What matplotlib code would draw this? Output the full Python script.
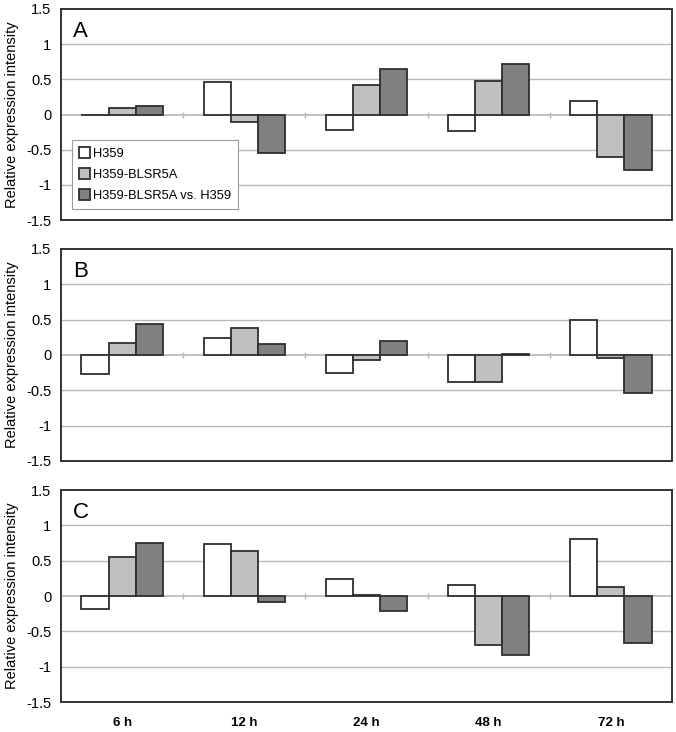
import matplotlib
matplotlib.use("Agg")
import matplotlib.pyplot as plt
import numpy as np

plt.rcParams['font.family'] = ['Liberation Sans', 'DejaVu Sans']

categories = ["6 h", "12 h", "24 h", "48 h", "72 h"]
series_names = ["H359", "H359-BLSR5A", "H359-BLSR5A vs. H359"]
panel_labels = ["A", "B", "C"]

# Panel A
a_h359 = [-0.01, 0.46, -0.215, -0.235, 0.185]
a_blsr = [0.09, -0.11, 0.425, 0.47, -0.61]
a_vs = [0.12, -0.55, 0.64, 0.72, -0.79]
# Panel B
b_h359 = [-0.275, 0.245, -0.255, -0.385, 0.49]
b_blsr = [0.17, 0.385, -0.075, -0.385, -0.04]
b_vs = [0.445, 0.155, 0.20, 0.015, -0.535]
# Panel C
c_h359 = [-0.18, 0.735, 0.235, 0.155, 0.80]
c_blsr = [0.55, 0.64, 0.01, -0.70, 0.125]
c_vs = [0.75, -0.08, -0.215, -0.84, -0.67]

panels = [(a_h359, a_blsr, a_vs), (b_h359, b_blsr, b_vs), (c_h359, c_blsr, c_vs)]
yticks = [-1.5, -1, -0.5, 0, 0.5, 1, 1.5]
ytick_labels = ["-1.5", "-1", "-0.5", "0", "0.5", "1", "1.5"]

colors = ["#ffffff", "#c0c0c0", "#808080"]
edge = "#2e2e2e"
grid_c = "#b8b8b8"

fig = plt.figure(figsize=(6.76, 7.32), dpi=100)
W, H = 676, 732
left, right = 61, 672
tops = [9, 249, 490]
bottoms = [220, 461, 702]

x = np.arange(len(categories))
bw = 0.222
for i, (vals, top, bot) in enumerate(zip(panels, tops, bottoms)):
    ax = fig.add_axes([left / W, 1 - bot / H, (right - left) / W, (bot - top) / H])
    ax.set_xlim(-0.5, len(categories) - 0.5)
    ax.set_ylim(-1.5, 1.5)
    for g in [-1, -0.5, 0.5, 1]:
        ax.axhline(g, color=grid_c, lw=1.0, zorder=0)
    ax.axhline(0, color=grid_c, lw=1.2, zorder=0)
    # tiny category boundary ticks on zero line
    bounds = np.arange(0.5, len(categories) - 0.5, 1.0)
    ax.plot(bounds, np.zeros_like(bounds), ls='none', marker='|', ms=5,
            mew=1.0, color=grid_c, zorder=0)
    for k, (s, name) in enumerate(zip(vals, series_names)):
        ax.bar(x + (k - 1) * bw, s, width=bw, color=colors[k], edgecolor=edge,
               linewidth=1.3, label=name, zorder=3)
    ax.set_yticks(yticks)
    ax.set_yticklabels(ytick_labels)
    ax.tick_params(axis='y', length=0, pad=7, labelsize=10.5)
    ax.set_ylabel("Relative expression intensity", fontsize=10.5, labelpad=5)
    ax.set_xticks(x)
    if i == 2:
        ax.set_xticklabels(categories, fontsize=9.5, fontweight='bold')
        ax.tick_params(axis='x', length=0, pad=11)
    else:
        ax.set_xticklabels([])
        ax.tick_params(axis='x', length=0)
    for sp in ax.spines.values():
        sp.set_color("#333333")
        sp.set_linewidth(1.4)
    ax.text(0.02, 0.945, panel_labels[i], transform=ax.transAxes, fontsize=16,
            va='top', ha='left')
    if i == 0:
        leg = ax.legend(loc='lower left', bbox_to_anchor=(0.018, 0.052),
                        borderaxespad=0, fancybox=False, fontsize=9.3,
                        handlelength=0.85, handleheight=0.85, handletextpad=0.2,
                        labelspacing=0.65, borderpad=0.55, edgecolor="#999999",
                        framealpha=1)
        leg.get_frame().set_linewidth(0.8)
        leg.set_zorder(5)

fig.savefig("out.png", dpi=100)
